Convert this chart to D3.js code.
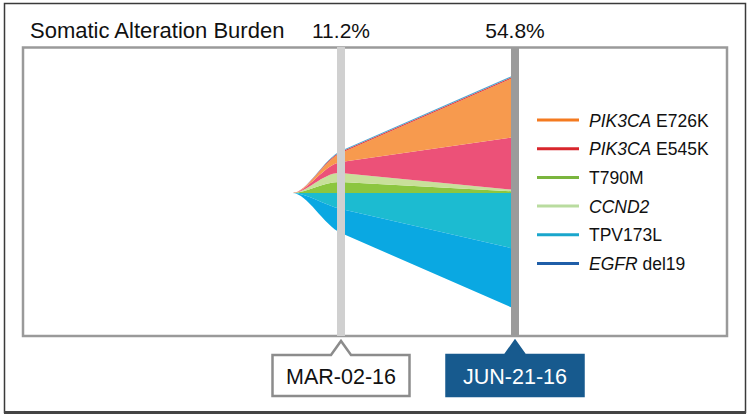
<!DOCTYPE html>
<meta charset="utf-8">
<script src="https://d3js.org/d3.v7.min.js"></script>
<style>
  body { margin: 0; background: #fff; }
  text { font-family: "Liberation Sans", Arial, sans-serif; }
</style>
<svg width="750" height="418"></svg>

<script>
    // sample dates (first one is the fish-plot origin)
    const timepoints = ["2016-01-31", "2016-03-02", "2016-06-21"];
    const sampleLabels = ["MAR-02-16", "JUN-21-16"];
    const burdenLabels = ["11.2%", "54.8%"];

    // clones, bottom of the stack first; side -1 = drawn below the line
    const clones = ["TPV173L", "EGFR del19", "T790M", "CCND2", "PIK3CA E545K", "PIK3CA E726K", "minor 1", "minor 2"];
    const cloneSide = [-1, -1, 1, 1, 1, 1, 1, 1];
    const cloneValues = [
        [0, 16, 56],
        [0, 24, 60],
        [0, 11, 1.5],
        [0, 9, 1.5],
        [0, 11, 53],
        [0, 9, 60],
        [0, 1.2, 1.2],
        [0, 1, 1.2]
    ];
    const cloneColors = ["#1cbbd1", "#0aa8e2", "#8cc63f", "#c8e09a", "#ec5178", "#f79a4e", "#e8413c", "#4fa3cf"];

    // legend
    const legendGenes = ["PIK3CA", "PIK3CA", "", "CCND2", "", "EGFR"];
    const legendVariants = ["E726K", "E545K", "T790M", "", "TPV173L", "del19"];
    const legendColors = ["#f47a20", "#d8262c", "#7ab53e", "#b9dc9f", "#1aa6cc", "#1f5ea8"];

    const svg = d3.select("svg");
    const parse = d3.timeParse("%Y-%m-%d");
    const dates = timepoints.map(parse);

    const x = d3.scaleTime()
        .domain([dates[1], dates[2]])
        .range([341, 515]);

    const y = d3.scaleLinear()
        .domain([-120, 120])
        .range([193 + 120, 193 - 120]);

    const table = dates.map((d, i) => {
        const row = {date: d};
        clones.forEach((c, k) => row[c] = cloneSide[k] * cloneValues[k][i]);
        return row;
    });

    const series = d3.stack()
        .keys(clones)
        .offset(d3.stackOffsetDiverging)(table);

    // eases in from the origin, straight lines between samples
    function curveFish(context) {
        let pts, lineNo;
        return {
            areaStart() { lineNo = 0; },
            areaEnd() {},
            lineStart() { pts = []; },
            point(px, py) { pts.push([+px, +py]); },
            lineEnd() {
                const rev = pts[0][0] > pts[pts.length - 1][0];
                const p = rev ? pts.slice().reverse() : pts;
                const [x0, y0] = p[0], [x1, y1] = p[1], [x2, y2] = p[2];
                const dx = x1 - x0, s = (y2 - y1) / (x2 - x1);
                const c1 = [x0 + 0.3 * dx, y0], c2 = [x1 - 0.35 * dx, y1 - s * 0.35 * dx];
                const start = rev ? p[p.length - 1] : p[0];
                if (lineNo++ === 0) context.moveTo(start[0], start[1]);
                else context.lineTo(start[0], start[1]);
                if (!rev) {
                    context.bezierCurveTo(c1[0], c1[1], c2[0], c2[1], x1, y1);
                    for (let i = 2; i < p.length; i++) context.lineTo(p[i][0], p[i][1]);
                } else {
                    for (let i = p.length - 2; i >= 1; i--) context.lineTo(p[i][0], p[i][1]);
                    context.bezierCurveTo(c2[0], c2[1], c1[0], c1[1], x0, y0);
                }
                if (lineNo === 2) context.closePath();
            }
        };
    }

    const area = d3.area()
        .x(d => x(d.data.date))
        .y0(d => y(d[0]))
        .y1(d => y(d[1]))
        .curve(curveFish);

    // outer frame
    svg.append("rect")
        .attr("x", 4.5).attr("y", 3.5)
        .attr("width", 741).attr("height", 409)
        .attr("fill", "none")
        .attr("stroke", "#3a3a3a")
        .attr("stroke-width", 1.5);
    svg.append("line")
        .attr("x1", 4).attr("x2", 746)
        .attr("y1", 412.5).attr("y2", 412.5)
        .attr("stroke", "#444")
        .attr("stroke-width", 3);

    // plot box
    svg.append("rect")
        .attr("x", 23).attr("y", 47.5)
        .attr("width", 704).attr("height", 288.5)
        .attr("fill", "#fff")
        .attr("stroke", "#9a9a9a")
        .attr("stroke-width", 2.5);

    svg.append("g")
        .selectAll("path")
        .data(series)
        .join("path")
        .attr("fill", (d, i) => cloneColors[i])
        .attr("d", area);

    // sample bars
    const barColors = ["#d0d0d0", "#9b9b9b"];
    svg.append("g")
        .selectAll("rect")
        .data(dates.slice(1))
        .join("rect")
        .attr("x", d => x(d) - 4)
        .attr("y", 47)
        .attr("width", 8)
        .attr("height", 289)
        .attr("fill", (d, i) => barColors[i]);

    // title and burden values
    svg.append("text")
        .attr("x", 30).attr("y", 38)
        .style("font-size", "22px")
        .attr("fill", "#111")
        .text("Somatic Alteration Burden");

    svg.append("g")
        .selectAll("text")
        .data(dates.slice(1))
        .join("text")
        .attr("x", d => x(d))
        .attr("y", 38)
        .attr("text-anchor", "middle")
        .style("font-size", "21px")
        .attr("fill", "#111")
        .text((d, i) => burdenLabels[i]);

    // date callouts
    const boxW = 137, boxTop = 355, boxH = 41, notch = 10, apex = 341;
    const callout = svg.append("g")
        .selectAll("g")
        .data(dates.slice(1))
        .join("g")
        .attr("transform", d => "translate(" + x(d) + ",0)");

    callout.append("path")
        .attr("d", "M" + (-boxW / 2) + "," + boxTop +
            "H" + (-notch) + "L0," + apex + "L" + notch + "," + boxTop +
            "H" + (boxW / 2) + "V" + (boxTop + boxH) + "H" + (-boxW / 2) + "Z")
        .attr("fill", (d, i) => i === 0 ? "#fff" : "#175a8e")
        .attr("stroke", (d, i) => i === 0 ? "#8c8c8c" : "#175a8e")
        .attr("stroke-width", 2.5)
        .attr("stroke-linejoin", "miter");

    callout.append("text")
        .attr("x", 0)
        .attr("y", 384)
        .attr("text-anchor", "middle")
        .style("font-size", "21.5px")
        .attr("fill", (d, i) => i === 0 ? "#111" : "#fff")
        .text((d, i) => sampleLabels[i]);

    // legend
    const legend = svg.append("g")
        .selectAll("g")
        .data(legendColors)
        .join("g")
        .attr("transform", (d, i) => "translate(537," + (120 + i * 28.7) + ")");

    legend.append("line")
        .attr("x1", 0).attr("x2", 42)
        .attr("stroke", d => d)
        .attr("stroke-width", 3);

    const lt = legend.append("text")
        .attr("x", 52)
        .attr("y", 6.5)
        .style("font-size", "17.5px")
        .attr("fill", "#111");
    lt.append("tspan")
        .style("font-style", "italic")
        .text((d, i) => legendGenes[i]);
    lt.append("tspan")
        .text((d, i) => (legendGenes[i] && legendVariants[i] ? " " : "") + legendVariants[i]);
</script>
